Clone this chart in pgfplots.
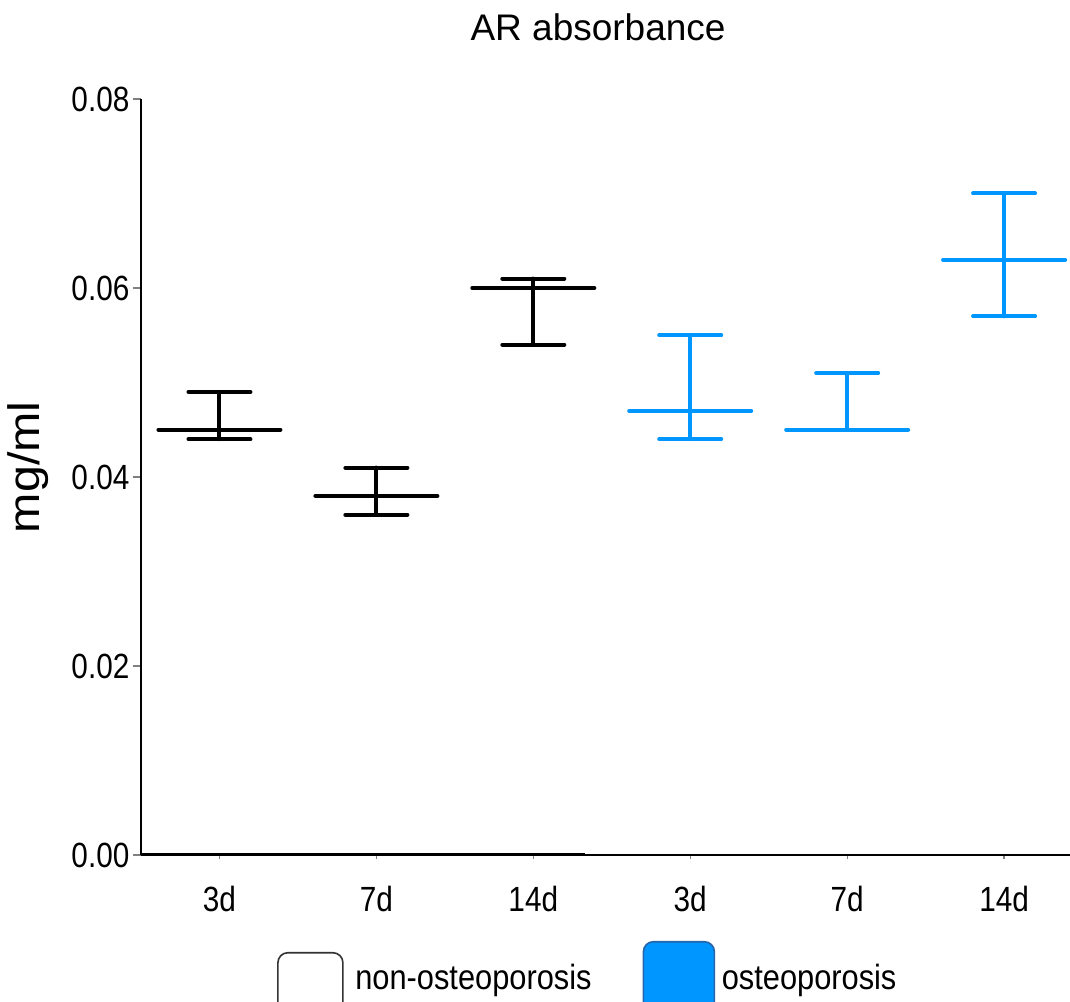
\documentclass[border=0pt]{standalone}
\usepackage{fontspec}
\setmainfont{Liberation Sans}
\newfontfamily\cond{Liberation Sans}[FakeStretch=0.85]
\newfontfamily\legfont{Liberation Sans}[FakeStretch=0.88]
\newfontfamily\widefont{Liberation Sans}[FakeStretch=1.1]
\usepackage{pgfplots}
\pgfplotsset{compat=1.18}
\definecolor{osteo}{RGB}{0,150,255}
\definecolor{osteoedge}{RGB}{40,100,170}

\begin{document}
\begin{tikzpicture}
\begin{axis}[name=ax,
  scale only axis,width=464.5pt,height=378pt,
  xmin=-0.5,xmax=5.42,ymin=0,ymax=0.08,
  axis x line=bottom,axis y line=left,axis line style={-,line width=1pt},
  tick align=outside,
  xtick={0,...,5},xticklabels={3d,7d,14d,3d,7d,14d},
  x tick style={line width=0.6pt,/pgfplots/major tick length=2pt},
  y tick style={line width=1pt,/pgfplots/major tick length=4pt},
  ytick={0,0.02,0.04,0.06,0.08},scaled y ticks=false,
  yticklabel style={xshift=2pt,/pgf/number format/fixed,/pgf/number format/fixed zerofill,/pgf/number format/precision=2},
  /pgf/number format/assume math mode=true,
  tick label style={font=\cond\fontsize{17.5}{20}\selectfont},
  xticklabel style={yshift=-8pt},
  title={AR absorbance},
  title style={at={(axis description cs:0.492,1.062)},anchor=base,font=\fontsize{18.5}{22}\selectfont},
  ylabel={mg/ml},
  ylabel style={at={(axis description cs:-0.122,0.513)},anchor=center,font=\widefont\fontsize{22}{26}\selectfont},
  legend style={at={(axis description cs:0.482,-0.165)},anchor=center,draw=none,fill=none,
    font=\legfont\fontsize{17.5}{20}\selectfont,legend columns=2,
    /tikz/every even column/.append style={column sep=23.5pt}},
  legend cell align=left,
]
% non-osteoporosis: mean with asymmetric error
\addplot[black,forget plot,only marks,mark=-,mark size=30.5pt,mark options={line width=2pt,line cap=round},
  error bars/.cd,y dir=both,y explicit,
  error bar style={line width=2pt,line cap=round},
  error mark options={rotate=90,mark size=15.5pt,line width=2pt,line cap=round}]
  coordinates {
  (0,0.045) += (0,0.004) -= (0,0.001)
  (1,0.038) += (0,0.003) -= (0,0.002)
  (2,0.060) += (0,0.001) -= (0,0.006)
  };
% osteoporosis
\addplot[osteo,forget plot,only marks,mark=-,mark size=30.5pt,mark options={line width=2pt,line cap=round},
  error bars/.cd,y dir=both,y explicit,
  error bar style={line width=2pt,line cap=round},
  error mark options={rotate=90,mark size=15.5pt,line width=2pt,line cap=round}]
  coordinates {
  (3,0.047) += (0,0.008) -= (0,0.003)
  (4,0.045) += (0,0.006) -= (0,0.000)
  (5,0.063) += (0,0.007) -= (0,0.006)
  };
\addlegendimage{legend image code/.code={\draw[draw=black!80,fill=white,line width=0.8pt,rounded corners=5pt] (0pt,-19.5pt) rectangle (32.5pt,13pt); \path (36.5pt,0pt);}}
\addlegendentry{non-osteoporosis}
\addlegendimage{legend image code/.code={\draw[draw=osteoedge,fill=osteo,line width=0.8pt,rounded corners=5pt] (0pt,-17pt) rectangle (35.5pt,18.5pt); \path (37pt,0pt);}}
\addlegendentry{osteoporosis}
\draw[line width=1.6pt] (axis cs:-0.5,0) -- (axis cs:2.33,0);
\end{axis}
\pgfresetboundingbox
\path ([xshift=-70.5pt,yshift=-73.5pt]ax.south west) rectangle ([yshift=49.5pt]ax.north east);
\end{tikzpicture}
\end{document}
